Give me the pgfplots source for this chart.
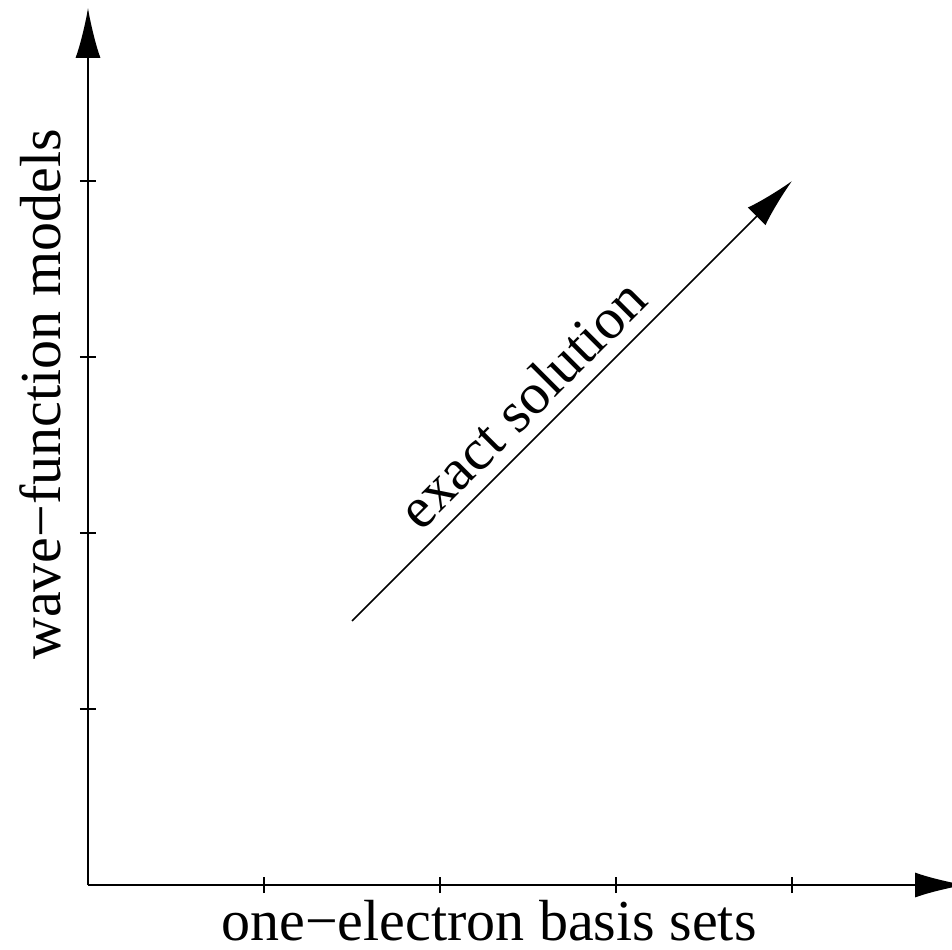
\documentclass[border=0pt]{standalone}
\usepackage{pgfplots}
\pgfplotsset{compat=1.18}
\usetikzlibrary{arrows.meta}
\usepackage{fontspec}
\setmainfont{Liberation Serif}
\begin{document}
\begin{tikzpicture}
\begin{axis}[
  x=88pt, y=88pt,
  xmin=0, xmax=4.983, ymin=0, ymax=4.983,
  axis lines=left,
  axis line style={line width=0.8pt, black, -{Latex[length=25pt,width=12.5pt]}},
  xtick={1,2,3,4}, ytick={1,2,3,4},
  xticklabels={}, yticklabels={},
  tick align=center, major tick length=8pt,
  tick style={line width=0.8pt, black},
  clip=false,
]
\addplot[black, no markers, line width=0.8pt, -{Latex[length=25pt,width=12.5pt]}] coordinates {(1.5,1.5) (4,4)};
\node[rotate=45, anchor=base, inner sep=0pt, font=\fontsize{29}{34}\selectfont] at (axis cs:2.544,2.656) {exact solution};
\node[anchor=base, inner sep=0pt, font=\fontsize{29}{34}\selectfont] at (axis cs:2.278,-0.3125) {one−electron basis sets};
\node[rotate=90, anchor=base, inner sep=0pt, font=\fontsize{29}{34}\selectfont] at (axis cs:-0.159,2.787) {wave−function models};
\end{axis}
\pgfresetboundingbox
\path[use as bounding box] (current axis.origin) ++(-44pt,-32pt) rectangle ++(476pt,474.5pt);
\end{tikzpicture}
\end{document}
